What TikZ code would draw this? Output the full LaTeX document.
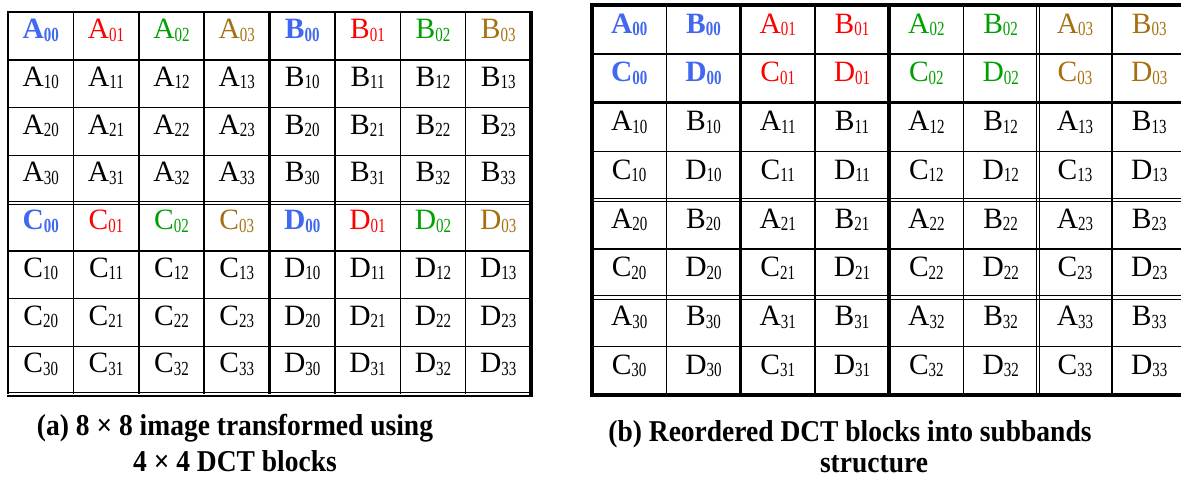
\documentclass[tikz,border=0pt]{standalone}
\usepackage{fontspec}
\setmainfont{Liberation Serif}
\definecolor{cblue}{RGB}{64,104,240}
\definecolor{cred}{RGB}{255,0,0}
\definecolor{cgreen}{RGB}{0,160,0}
\definecolor{cbrown}{RGB}{166,112,16}
\newcommand\myentry[3]{%
  \ifcase#1 \def\mylt{A}\or\def\mylt{B}\or\def\mylt{C}\or\def\mylt{D}\fi
  \ifnum#2=0 \ifcase#3 \color{cblue}\bfseries\or\color{cred}\or\color{cgreen}\or\color{cbrown}\fi\fi
  \mylt\raisebox{-2.5pt}{\scalebox{0.75}[1]{\fontsize{20}{20}\selectfont#2#3}}}
\newcommand\mycap[1]{\scalebox{1}[1.1]{#1}}
\begin{document}
\begin{tikzpicture}[x=1pt,y=-1pt,
  txt/.style={anchor=base,inner sep=0pt,font=\fontsize{29.5}{30}\selectfont},
  captxt/.style={anchor=base,inner sep=0pt,font=\fontsize{27.5}{30}\selectfont\bfseries},
  thinline/.style={line width=1.5pt},
  thickline/.style={line width=3.5pt},
  dblline/.style={line width=1.2pt}]
\clip (0,0) rectangle (1181,480);
\fill[white] (0,0) rectangle (1181,480);
% ---------- left grid ----------
\def\lx{8}\def\ly{12}\def\lw{65.375}\def\lh{47.75}
\foreach \r in {0,...,7}{\foreach \c in {0,...,7}{
  \pgfmathtruncatemacro\i{mod(\r,4)}
  \pgfmathtruncatemacro\j{mod(\c,4)}
  \pgfmathtruncatemacro\k{2*(\r>3)+(\c>3)}
  \node[txt] (L-\r-\c) at ({\lx+\lw*(\c+0.5)},{\ly+\lh*\r+26.5}) {\myentry{\k}{\i}{\j}};
}}
\foreach \c in {1,2,3,5,6,7}{\draw[thinline] ({\lx+\lw*\c},\ly) -- ({\lx+\lw*\c},{\ly+8*\lh});}
\foreach \r in {1,2,3,5,6,7}{\draw[thinline] (\lx,{\ly+\lh*\r}) -- ({\lx+8*\lw},{\ly+\lh*\r});}
\draw[thickline] ({\lx+4*\lw},\ly) -- ({\lx+4*\lw},{\ly+8*\lh});
\draw[dblline] (\lx,{\ly+4*\lh-1.7}) -- ({\lx+8*\lw},{\ly+4*\lh-1.7});
\draw[dblline] (\lx,{\ly+4*\lh+1.7}) -- ({\lx+8*\lw},{\ly+4*\lh+1.7});
\draw[line width=2pt] (\lx,{\ly+8*\lh}) -- (\lx,\ly) -- ({\lx+8*\lw},\ly);
\draw[line width=3.5pt] ({\lx+8*\lw},{\ly-1}) -- ({\lx+8*\lw},{\ly+8*\lh+3});
\draw[dblline] ({\lx-1},{\ly+8*\lh-1.5}) -- ({\lx+8*\lw},{\ly+8*\lh-1.5});
\draw[line width=2.5pt] ({\lx-1},{\ly+8*\lh+2}) -- ({\lx+8*\lw+1.7},{\ly+8*\lh+2});
% ---------- right grid ----------
\def\rx{592}\def\ry{5}\def\rw{74.3}\def\rh{48.75}
\foreach \r in {0,...,7}{\foreach \c in {0,...,7}{
  \pgfmathtruncatemacro\i{int(\r/2)}
  \pgfmathtruncatemacro\j{int(\c/2)}
  \pgfmathtruncatemacro\k{2*mod(\r,2)+mod(\c,2)}
  \node[txt] (R-\r-\c) at ({\rx+\rw*(\c+0.5)},{\ry+\rh*\r+28}) {\myentry{\k}{\i}{\j}};
}}
\foreach \c in {1,3,5,7}{\draw[thinline] ({\rx+\rw*\c},\ry) -- ({\rx+\rw*\c},{\ry+8*\rh});}
\foreach \r in {1,3,5,7}{\draw[thinline] (\rx,{\ry+\rh*\r}) -- ({\rx+8*\rw},{\ry+\rh*\r});}
\foreach \c in {2,4}{\draw[thickline] ({\rx+\rw*\c},\ry) -- ({\rx+\rw*\c},{\ry+8*\rh});}
\draw[thickline] (\rx,{\ry+2*\rh}) -- ({\rx+8*\rw},{\ry+2*\rh});
\foreach \r in {4,6}{
  \draw[dblline] (\rx,{\ry+\rh*\r-1.7}) -- ({\rx+8*\rw},{\ry+\rh*\r-1.7});
  \draw[dblline] (\rx,{\ry+\rh*\r+1.7}) -- ({\rx+8*\rw},{\ry+\rh*\r+1.7});}
\draw[dblline] ({\rx+6*\rw-1.7},\ry) -- ({\rx+6*\rw-1.7},{\ry+8*\rh});
\draw[dblline] ({\rx+6*\rw+1.7},\ry) -- ({\rx+6*\rw+1.7},{\ry+8*\rh});
\draw[thickline] (\rx,\ry) rectangle ({\rx+8*\rw},{\ry+8*\rh});
% ---------- captions ----------
\node[captxt] (capA1) at (235,435) {\mycap{(a) 8 × 8 image transformed using}};
\node[captxt] (capA2) at (235,471) {\mycap{4 × 4 DCT blocks}};
\node[captxt] (capB1) at (850,441) {\mycap{(b) Reordered DCT blocks into subbands}};
\node[captxt] (capB2) at (874,472) {\mycap{structure}};
\end{tikzpicture}
\end{document}
